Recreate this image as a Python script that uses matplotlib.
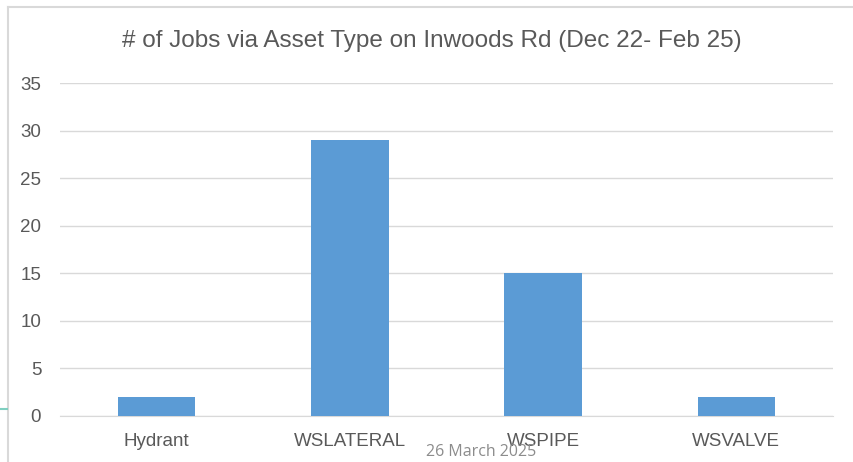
import matplotlib
matplotlib.use("Agg")
import matplotlib.pyplot as plt
from matplotlib.lines import Line2D

asset_types = ["Hydrant", "WSLATERAL", "WSPIPE", "WSVALVE"]
job_counts = [2, 29, 15, 2]
y_ticks = [0, 5, 10, 15, 20, 25, 30, 35]

TEXT = "#595959"
GRID = "#d9d9d9"
BAR = "#5b9bd5"


def plot_jobs():
    plt.rcParams["font.family"] = ["Liberation Sans", "DejaVu Sans"]
    fig = plt.figure(figsize=(8.54, 4.62), dpi=100)
    ax = fig.add_axes([60 / 854, 1 - 416 / 462, 773 / 854, 333 / 462])

    ax.bar(range(len(asset_types)), job_counts, width=0.4, color=BAR, zorder=3)
    ax.set_xlim(-0.5, len(asset_types) - 0.5)
    ax.set_ylim(0, 35)
    ax.set_yticks(y_ticks)
    ax.set_xticks(range(len(asset_types)))
    ax.set_xticklabels(asset_types)
    ax.grid(axis="y", color=GRID, linewidth=1, zorder=0)
    for s in ["top", "right", "left"]:
        ax.spines[s].set_visible(False)
    ax.spines["bottom"].set_color(GRID)
    ax.tick_params(axis="both", length=0, colors=TEXT, labelsize=13.5)
    ax.tick_params(axis="y", pad=13.5)
    ax.tick_params(axis="x", pad=12)

    fig.text(432 / 854, 1 - 41 / 462, "# of Jobs via Asset Type on Inwoods Rd (Dec 22- Feb 25)",
             ha="center", va="center", fontsize=17.5, color=TEXT)

    # chart frame and stray marks from the slide
    fig.add_artist(Line2D([8 / 854, 1], [1 - 7 / 462, 1 - 7 / 462], color=GRID, lw=1.5,
                          transform=fig.transFigure))
    fig.add_artist(Line2D([8 / 854, 8 / 854], [0, 1 - 7 / 462], color=GRID, lw=1.5,
                          transform=fig.transFigure))
    fig.add_artist(Line2D([0, 7 / 854], [1 - 409 / 462, 1 - 409 / 462], color="#7fcfc0", lw=1.5,
                          transform=fig.transFigure))
    fig.text(481 / 854, 1 - 452 / 462, "26 March 2025", ha="center", va="center",
             fontsize=11.5, color="#8c8c8c", family=["Open Sans", "DejaVu Sans"])

    fig.savefig("out.png", dpi=100)
    plt.close(fig)


if __name__ == "__main__":
    plot_jobs()
